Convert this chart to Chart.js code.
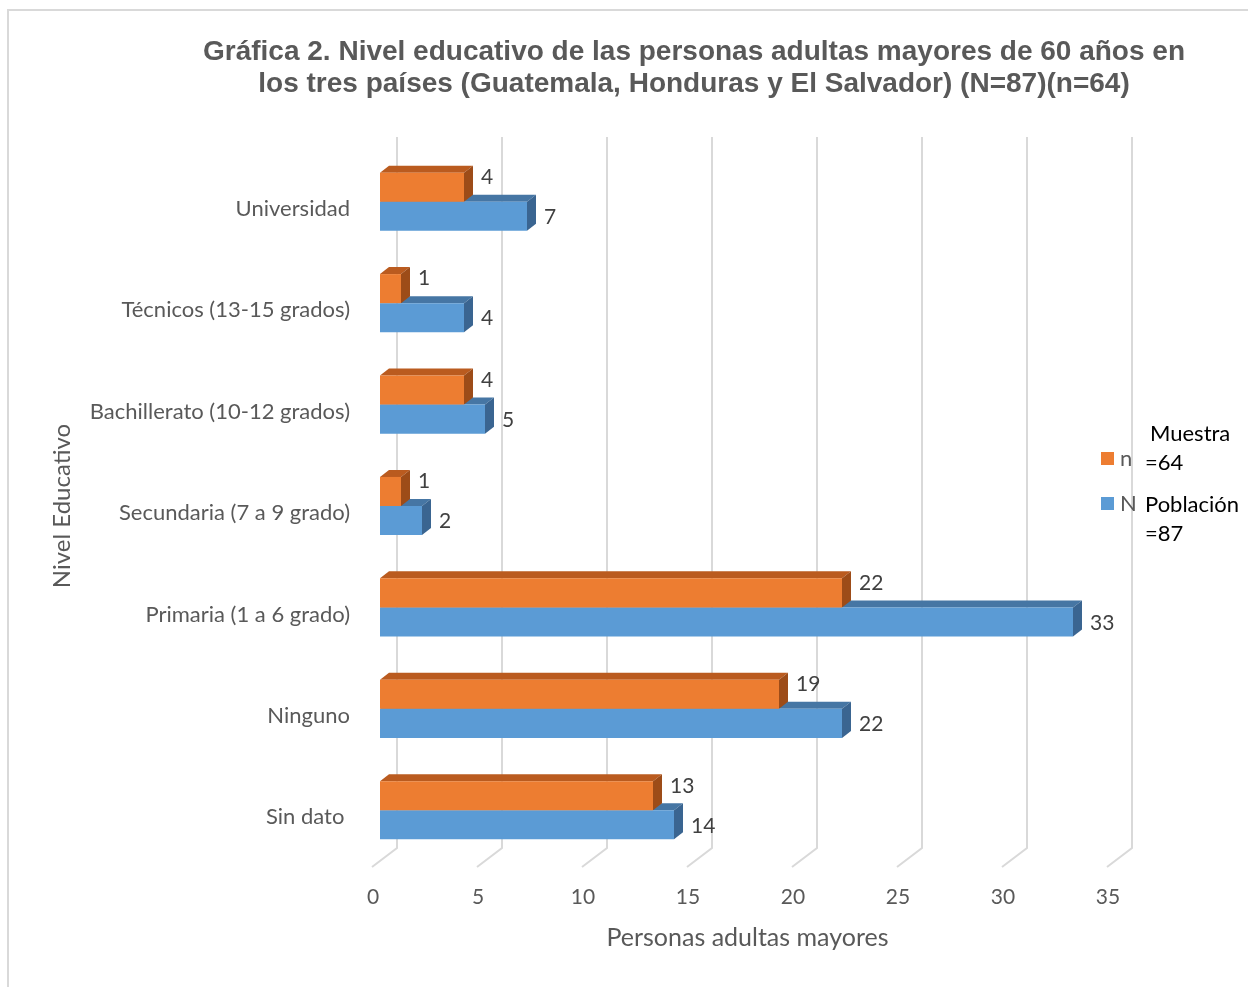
<!DOCTYPE html>
<html>
<head>
<meta charset="utf-8">
<script src="https://cdn.jsdelivr.net/npm/chart.js@4.4.1/dist/chart.umd.min.js"></script>
<style>
  html, body { margin: 0; padding: 0; background: #fff; }
</style>
</head>
<body>
<canvas id="grafica" width="1248" height="987"></canvas>
<script>
// datos de la grafica
const categorias = ["Universidad", "Técnicos (13-15 grados)", "Bachillerato (10-12 grados)",
  "Secundaria (7 a 9 grado)", "Primaria (1 a 6 grado)", "Ninguno", "Sin dato "];
const muestra = [4, 1, 4, 1, 22, 19, 13];     // n
const poblacion = [7, 4, 5, 2, 33, 22, 14];   // N
const series = ["n", "N"];
const notasLeyenda = [["Muestra", "=64"], ["Población", "=87"]];
const ticksX = [0, 5, 10, 15, 20, 25, 30, 35];
const titulo = ["Gráfica 2. Nivel educativo de las personas adultas mayores de 60 años en",
  "los tres países (Guatemala, Honduras y El Salvador) (N=87)(n=64)"];
const tituloEjeX = "Personas adultas mayores";
const tituloEjeY = "Nivel Educativo";

const colFrente = ["#ED7D31", "#5B9BD5"];
const colArriba = ["#BA5B1F", "#4676A4"];
const colLado = ["#9D4C18", "#3A6591"];
const fuente = "Lato, 'Open Sans', sans-serif";
const DX = 9, DY = -7; // profundidad 3D de las barras

// marco, titulo, rejilla 3D y caras laterales
const efecto3d = {
  id: "efecto3d",
  beforeDraw(chart) {
    const ctx = chart.ctx;
    ctx.save();
    ctx.strokeStyle = "#D9D9D9";
    ctx.lineWidth = 2;
    ctx.beginPath();
    ctx.moveTo(8, chart.height);
    ctx.lineTo(8, 10);
    ctx.lineTo(chart.width, 10);
    ctx.stroke();

    ctx.fillStyle = "#595959";
    ctx.font = "bold 28px 'Liberation Sans', Arial, sans-serif";
    ctx.textAlign = "center";
    ctx.textBaseline = "middle";
    titulo.forEach((t, i) => ctx.fillText(t, 694, 52 + i * 32));
    ctx.restore();
  },
  beforeDatasetsDraw(chart) {
    const ctx = chart.ctx;
    const a = chart.chartArea;
    const sx = chart.scales.x;
    ctx.save();
    ctx.strokeStyle = "#D9D9D9";
    ctx.lineWidth = 2;
    ticksX.forEach(v => {
      const px = sx.getPixelForValue(v);
      ctx.beginPath();
      ctx.moveTo(px + 17, a.top - 14);
      ctx.lineTo(px + 17, a.bottom - 13);
      ctx.lineTo(px - 8, a.bottom + 6);
      ctx.stroke();
    });
    // primero N (azul) y luego n (naranja) para que se tapen bien
    [1, 0].forEach(di => {
      chart.getDatasetMeta(di).data.forEach(bar => {
        const p = bar.getProps(["x", "y", "base", "height"], true);
        const arriba = p.y - p.height / 2, abajo = p.y + p.height / 2;
        ctx.fillStyle = colArriba[di];
        ctx.beginPath();
        ctx.moveTo(p.base, arriba);
        ctx.lineTo(p.base + DX, arriba + DY);
        ctx.lineTo(p.x + DX, arriba + DY);
        ctx.lineTo(p.x, arriba);
        ctx.closePath();
        ctx.fill();
        ctx.fillStyle = colLado[di];
        ctx.beginPath();
        ctx.moveTo(p.x, arriba);
        ctx.lineTo(p.x + DX, arriba + DY);
        ctx.lineTo(p.x + DX, abajo + DY);
        ctx.lineTo(p.x, abajo);
        ctx.closePath();
        ctx.fill();
      });
    });
    ctx.restore();
  },
  afterDatasetsDraw(chart) {
    const ctx = chart.ctx;
    ctx.save();
    ctx.font = "21px " + fuente;
    ctx.fillStyle = "#404040";
    ctx.textAlign = "left";
    ctx.textBaseline = "middle";
    chart.data.datasets.forEach((ds, di) => {
      chart.getDatasetMeta(di).data.forEach((bar, i) => {
        const dy = di === 0 ? -10 : 1;
        ctx.fillText(ds.data[i], bar.x + 17, bar.y + dy);
      });
    });

    // leyenda
    const a = chart.chartArea;
    const lx = a.right - 14;
    ctx.font = "22px " + fuente;
    series.forEach((s, i) => {
      const cy = 459 + i * 45;
      ctx.fillStyle = colFrente[i];
      ctx.fillRect(lx, cy - 7, 13, 13);
      ctx.fillStyle = "#595959";
      ctx.fillText(s, lx + 19, cy);
      ctx.fillStyle = "#000000";
      const notas = notasLeyenda[i];
      if (i === 0) {
        ctx.fillText(notas[0], lx + 49, cy - 25);
        ctx.fillText(notas[1], lx + 44, cy + 4);
      } else {
        ctx.fillText(notas[0], lx + 44, cy + 1);
        ctx.fillText(notas[1], lx + 44, cy + 30);
      }
    });
    ctx.restore();
  }
};

new Chart("grafica", {
  type: "bar",
  data: {
    labels: categorias,
    datasets: [{
      label: series[0],
      data: muestra,
      backgroundColor: colFrente[0],
      barPercentage: 1,
      categoryPercentage: 0.573
    }, {
      label: series[1],
      data: poblacion,
      backgroundColor: colFrente[1],
      barPercentage: 1,
      categoryPercentage: 0.573
    }]
  },
  options: {
    indexAxis: "y",
    responsive: false,
    animation: false,
    layout: { padding: { left: 48, right: 133, top: 151, bottom: 31 } },
    plugins: {
      legend: { display: false },
      title: { display: false },
      tooltip: { enabled: false }
    },
    scales: {
      x: {
        min: 0,
        max: 35,
        afterBuildTicks: s => { s.ticks = ticksX.map(v => ({ value: v })); },
        afterFit: s => { s.height = 95; },
        grid: { display: false, drawTicks: false },
        border: { display: false },
        ticks: { font: { size: 21, family: fuente }, color: "#595959", padding: 24, labelOffset: -7 },
        title: { display: true, text: tituloEjeX, font: { size: 25, family: fuente }, color: "#595959",
          padding: { top: 0, bottom: 3 } }
      },
      y: {
        afterFit: s => { s.width = 332; },
        grid: { display: false, drawTicks: false },
        border: { display: false },
        ticks: { font: { size: 22, family: fuente }, color: "#595959", padding: 30, labelOffset: 7 },
        title: { display: true, text: tituloEjeY, font: { size: 24, family: fuente }, color: "#595959",
          padding: { top: 0, bottom: 0 } }
      }
    }
  },
  plugins: [efecto3d]
});
</script>
</body>
</html>
